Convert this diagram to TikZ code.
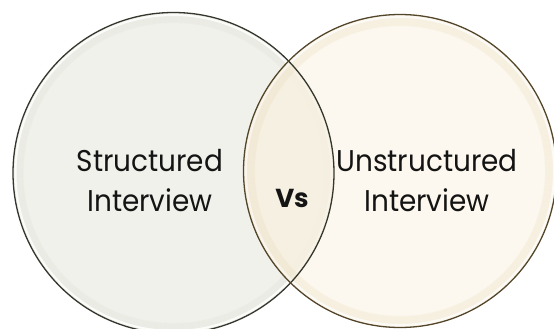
\documentclass[tikz,border=0pt]{standalone}
\usepackage{fontspec}
\setmainfont{Poppins}
\newfontfamily\narrowfont[FakeStretch=0.93]{Poppins}
\begin{document}
\begin{tikzpicture}[x=1pt,y=-1pt,
  lbl/.style={align=center,font=\narrowfont\fontsize{30}{40}\selectfont,text=black!92,inner sep=0pt},
  vslbl/.style={font=\fontsize{26}{30}\selectfont\bfseries,text=black!92,inner sep=0pt}]
\definecolor{lfill}{HTML}{F1F1EB}
\definecolor{lrim}{HTML}{C9CBBE}
\definecolor{lline}{HTML}{34372D}
\definecolor{rfill}{HTML}{FBF6EA}
\definecolor{rrim}{HTML}{E2CC98}
\definecolor{rline}{HTML}{54462A}
\useasboundingbox (0,0) rectangle (554,329);
\fill[white] (0,0) rectangle (554,329);
\coordinate (lc) at (173.5,173);
\coordinate (rc) at (400,171);
% left circle
\fill[lfill] (lc) circle[radius=160.5];
\foreach \i in {2,...,10}{
  \draw[lrim,opacity=0.09,line width=1.2pt] (lc) circle[radius=160.5-\i];
}
\draw[white,opacity=0.8,line width=2pt] (lc) circle[radius=158];
% right circle, semi-transparent
\fill[rfill,opacity=0.75] (rc) circle[radius=156.5];
\foreach \i in {2,...,11}{
  \draw[rrim,opacity=0.12,line width=1.2pt] (rc) circle[radius=156.5-\i];
}
\draw[white,opacity=0.7,line width=2pt] (rc) circle[radius=154];
\begin{scope}
\clip (lc) circle[radius=160.5];
\fill[rrim,opacity=0.08] (rc) circle[radius=156.5];
\end{scope}
\draw[lline,line width=1.3pt] (lc) circle[radius=160.5];
\draw[rline,line width=1.3pt] (rc) circle[radius=156.5];
% texts
\node[lbl] (left) at (150,181) {Structured\\Interview};
\node[lbl] (right) at (427,181) {Unstructured\\Interview};
\node[vslbl,anchor=base] (vs) at (292,207) {Vs};
\end{tikzpicture}
\end{document}
